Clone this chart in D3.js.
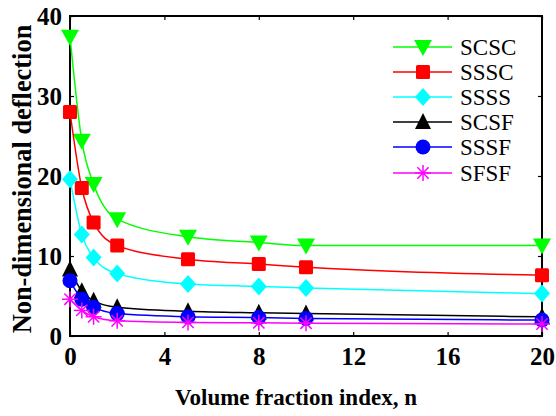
<html><head>
  <script src="https://d3js.org/d3.v7.min.js"></script>
  <style>
    body { margin: 0; background: #fff; }
    text { font-family: 'Liberation Serif', 'Times New Roman', serif; }
  </style>
</head>
<body>
  <script>
    // Volume fraction index values
    const nValues = [0, 0.5, 1, 2, 5, 8, 10, 20]
    // Non-dimensional deflection per boundary condition
    const scsc = [37.4, 24.4, 19.0, 14.6, 12.4, 11.7, 11.3, 11.3]
    const sssc = [28.0, 18.5, 14.2, 11.3, 9.6, 9.0, 8.6, 7.6]
    const ssss = [19.6, 12.7, 9.8, 7.8, 6.5, 6.2, 6.0, 5.3]
    const scsf = [8.3, 5.6, 4.4, 3.6, 3.1, 2.9, 2.8, 2.4]
    const sssf = [6.9, 4.6, 3.6, 2.8, 2.4, 2.3, 2.2, 2.0]
    const sfsf = [4.6, 3.2, 2.4, 1.9, 1.7, 1.65, 1.6, 1.5]
    const seriesNames = ["SCSC", "SSSC", "SSSS", "SCSF", "SSSF", "SFSF"]
    const xTicks = [0, 4, 8, 12, 16, 20]
    const yTicks = [0, 10, 20, 30, 40]

    const seriesValues = [scsc, sssc, ssss, scsf, sssf, sfsf]
    const colors = ["#00ff00", "#ff0000", "#00ffff", "#000000", "#0000ff", "#ff00ff"]
    const symbols = ["triDown", "square", "diamond", "triUp", "circle", "star"]
    const serif = "'Liberation Serif', 'Times New Roman', serif"

    const width = 556, height = 416
    const margin = {top: 16, right: 14, bottom: 80, left: 70}
    const chartWidth = width - margin.left - margin.right
    const chartHeight = height - margin.top - margin.bottom

    const svg = d3.select("body").append("svg")
                  .attr("width", width)
                  .attr("height", height)

    const xScale = d3.scaleLinear().domain([0, 20]).range([0, chartWidth])
    const yScale = d3.scaleLinear().domain([0, 40]).range([chartHeight, 0])

    const chart = svg.append("g").attr("transform", `translate(${margin.left},${margin.top})`)

    // axes with inward ticks
    const bottomAxis = d3.axisBottom(xScale).tickValues(xTicks).tickSizeInner(-4).tickSizeOuter(0).tickPadding(11)
    const leftAxis = d3.axisLeft(yScale).tickValues(yTicks).tickSizeInner(-4).tickSizeOuter(0).tickPadding(8)
    const topAxis = d3.axisTop(xScale).tickValues(xTicks).tickSizeInner(-4).tickSizeOuter(0).tickFormat("")
    const rightAxis = d3.axisRight(yScale).tickValues(yTicks).tickSizeInner(-4).tickSizeOuter(0).tickFormat("")

    function styleAxis(g) {
      g.attr("font-family", serif)
      g.select(".domain").remove()
      g.selectAll(".tick line").attr("stroke", "black").attr("stroke-width", 1.2)
      g.selectAll(".tick text")
       .style("font-family", serif)
       .style("font-size", "25px")
       .style("font-weight", "bold")
       .attr("fill", "black")
    }

    chart.append("g").attr("transform", `translate(0,${chartHeight})`).call(bottomAxis).call(styleAxis)
    chart.append("g").call(leftAxis).call(styleAxis)
    chart.append("g").call(topAxis).call(styleAxis)
    chart.append("g").attr("transform", `translate(${chartWidth},0)`).call(rightAxis).call(styleAxis)

    // box frame
    chart.append("rect")
         .attr("x", 0).attr("y", 0)
         .attr("width", chartWidth).attr("height", chartHeight)
         .attr("fill", "none").attr("stroke", "black").attr("stroke-width", 2)

    // axis labels
    svg.append("text")
       .attr("x", 296)
       .attr("y", 405)
       .attr("text-anchor", "middle")
       .style("font-size", "23px")
       .style("font-weight", "bold")
       .text("Volume fraction index, n")

    svg.append("text")
       .attr("transform", `translate(31,179) rotate(-90)`)
       .attr("text-anchor", "middle")
       .style("font-size", "26.4px")
       .style("font-weight", "bold")
       .text("Non-dimensional deflection")

    // marker drawing
    function drawMarker(g, type, color, cx, cy) {
      if (type === "triDown") {
        g.append("path").attr("d", `M${cx - 9},${cy - 7}L${cx + 9},${cy - 7}L${cx},${cy + 9}Z`).attr("fill", color)
      } else if (type === "triUp") {
        g.append("path").attr("d", `M${cx - 8},${cy + 7}L${cx + 8},${cy + 7}L${cx},${cy - 9}Z`).attr("fill", color)
      } else if (type === "square") {
        g.append("rect").attr("x", cx - 7).attr("y", cy - 7).attr("width", 14).attr("height", 14).attr("rx", 1.5).attr("fill", color)
      } else if (type === "diamond") {
        g.append("path").attr("d", `M${cx},${cy - 9}L${cx + 8},${cy}L${cx},${cy + 9}L${cx - 8},${cy}Z`).attr("fill", color)
      } else if (type === "circle") {
        g.append("circle").attr("cx", cx).attr("cy", cy).attr("r", 7.5).attr("fill", color)
      } else if (type === "star") {
        const r = 8
        for (let k = 0; k < 4; k++) {
          const a = k * Math.PI / 4
          g.append("line")
           .attr("x1", cx - r * Math.cos(a)).attr("y1", cy - r * Math.sin(a))
           .attr("x2", cx + r * Math.cos(a)).attr("y2", cy + r * Math.sin(a))
           .attr("stroke", color).attr("stroke-width", 1.5)
        }
      }
    }

    const line = d3.line()
                   .x(d => xScale(d[0]))
                   .y(d => yScale(d[1]))
                   .curve(d3.curveMonotoneX)

    seriesValues.forEach((vals, i) => {
      const pts = nValues.map((n, j) => [n, vals[j]])
      const g = chart.append("g")
      g.append("path")
       .attr("d", line(pts))
       .attr("fill", "none")
       .attr("stroke", colors[i])
       .attr("stroke-width", 1.5)
      pts.forEach(p => drawMarker(g, symbols[i], colors[i], xScale(p[0]), yScale(p[1])))
    })

    // legend
    const legend = svg.append("g")
    const legendY = [47, 72, 97, 122, 147, 173]
    seriesNames.forEach((name, i) => {
      const y = legendY[i]
      legend.append("line")
            .attr("x1", 393).attr("x2", 452)
            .attr("y1", y).attr("y2", y)
            .attr("stroke", colors[i]).attr("stroke-width", 1.5)
      drawMarker(legend, symbols[i], colors[i], 423, y)
      legend.append("text")
            .attr("x", 460).attr("y", y + 8)
            .style("font-size", "23px")
            .text(name)
    })
  </script>
</body></html>
